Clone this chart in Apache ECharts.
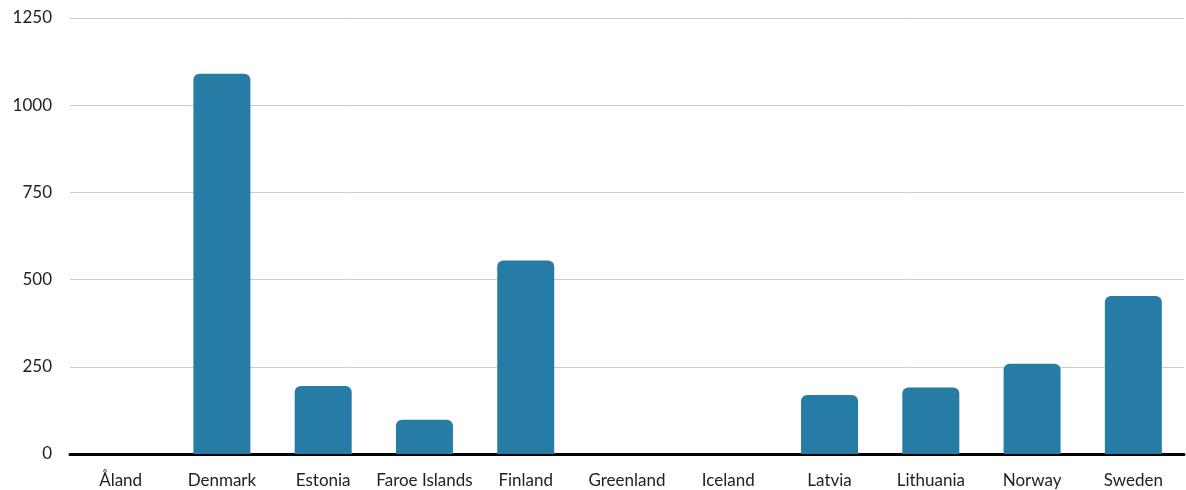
<!DOCTYPE html>
<html><head><meta charset="utf-8">
<script src="https://cdn.jsdelivr.net/npm/echarts@6/dist/echarts.min.js"></script>
<style>html,body{margin:0;padding:0;background:#fff}#c{width:1186px;height:490px}</style>
</head><body><div id="c"></div>
<script>
const categories = ["Åland","Denmark","Estonia","Faroe Islands","Finland","Greenland","Iceland","Latvia","Lithuania","Norway","Sweden"];
const values = [null,1090,195,98,555,null,null,169,191,259,453];
const yTicks = {min:0,max:1250,interval:250};
const chart = echarts.init(document.getElementById('c'));
chart.setOption({
  animation:false,
  grid:{left:70,right:2,top:18,bottom:36,containLabel:false},
  xAxis:{type:'category',data:categories,
    axisLine:{lineStyle:{color:'#000',width:3}},
    axisTick:{show:false},
    axisLabel:{interval:0,color:'#222',fontFamily:'Lato',fontSize:17,margin:18}},
  yAxis:{type:'value',min:yTicks.min,max:yTicks.max,interval:yTicks.interval,
    axisLine:{show:false},axisTick:{show:false},
    axisLabel:{color:'#222',fontFamily:'Lato',fontSize:17,margin:18,formatter:v=>String(v)},
    splitLine:{lineStyle:{color:'#cccccc',width:1}}},
  series:[{type:'bar',data:values,barWidth:57,
    itemStyle:{color:'#277ca6',borderRadius:[6,6,0,0]}}]
});
</script></body></html>
